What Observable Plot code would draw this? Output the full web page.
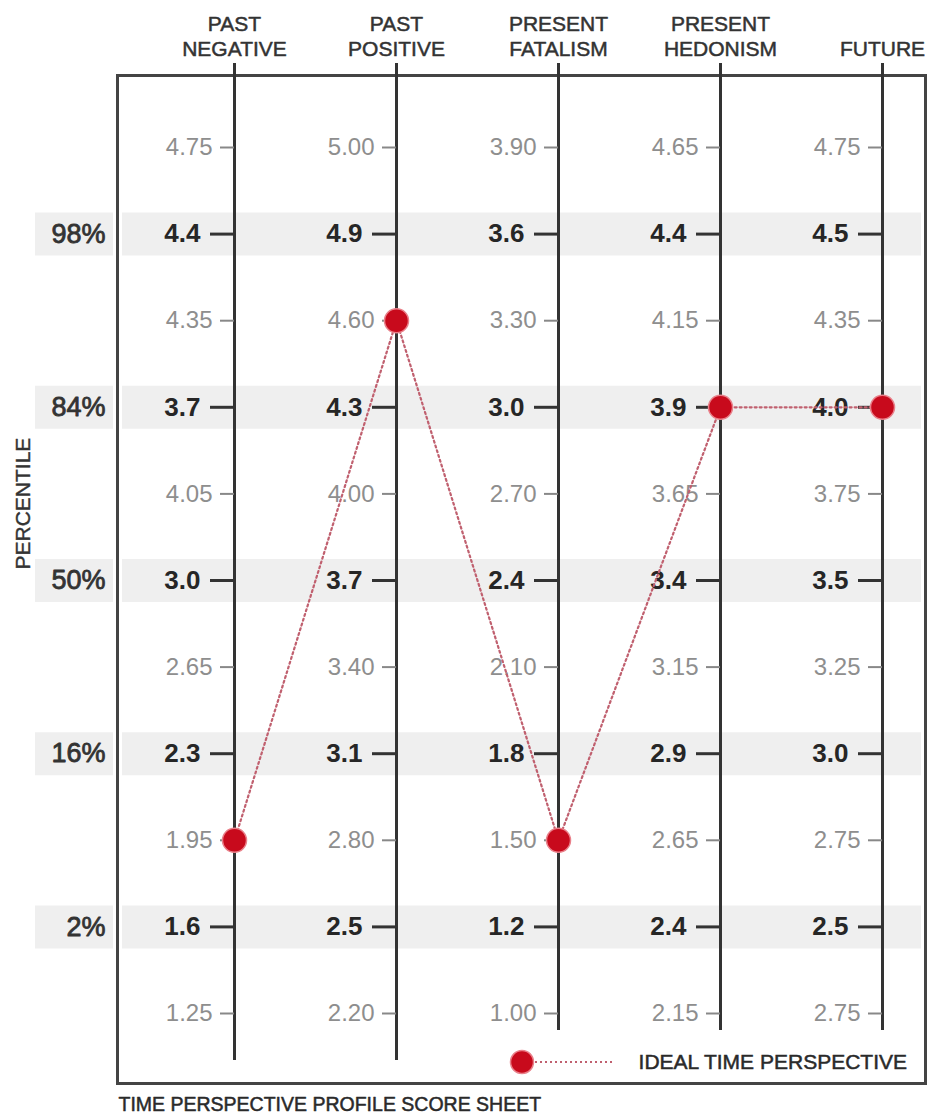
<!DOCTYPE html>
<html>
<head>
<meta charset="utf-8">
<script src="https://cdn.jsdelivr.net/npm/d3@7"></script>
<script src="https://cdn.jsdelivr.net/npm/@observablehq/plot@0.6"></script>
<style>
  html, body { margin: 0; padding: 0; background: #fff; }
  #chart svg { display: block; }
</style>
</head>
<body>
<div id="chart"></div>
<script>
// Scale headers (categories)
const scaleHeaders = ["PAST\nNEGATIVE", "PAST\nPOSITIVE", "PRESENT\nFATALISM", "PRESENT\nHEDONISM", "FUTURE"];

// Tick labels per scale, top row to bottom row
const pastNegative     = ["4.75", "4.4", "4.35", "3.7", "4.05", "3.0", "2.65", "2.3", "1.95", "1.6", "1.25"];
const pastPositive     = ["5.00", "4.9", "4.60", "4.3", "4.00", "3.7", "3.40", "3.1", "2.80", "2.5", "2.20"];
const presentFatalism  = ["3.90", "3.6", "3.30", "3.0", "2.70", "2.4", "2.10", "1.8", "1.50", "1.2", "1.00"];
const presentHedonism  = ["4.65", "4.4", "4.15", "3.9", "3.65", "3.4", "3.15", "2.9", "2.65", "2.4", "2.15"];
const future           = ["4.75", "4.5", "4.35", "4.0", "3.75", "3.5", "3.25", "3.0", "2.75", "2.5", "2.75"];

// Percentile labels (on the bold rows, top to bottom)
const percentiles = ["98%", "84%", "50%", "16%", "2%"];

// Ideal time perspective score on each scale
const idealScores = ["1.95", "4.60", "1.50", "3.9", "4.0"];

const legendLabel = "IDEAL TIME PERSPECTIVE";
const caption = "TIME PERSPECTIVE PROFILE SCORE SHEET";
const yTitle = "PERCENTILE";

// ---- derived tables ----
const scaleLabels = [pastNegative, pastPositive, presentFatalism, presentHedonism, future];
const ticks = scaleLabels.flatMap((labels, i) =>
  labels.map((label, row) => ({scale: scaleHeaders[i], row, label, major: row % 2 === 1}))
);
const majorTicks = ticks.filter(d => d.major);
const minorTicks = ticks.filter(d => !d.major);
const bandRows = percentiles.map((p, i) => ({row: 2 * i + 1, label: p}));
const ideal = idealScores.map((v, i) => ({scale: scaleHeaders[i], row: scaleLabels[i].indexOf(v)}));
const shortAxes = new Set(scaleHeaders.slice(2));

const FONT = "'Liberation Sans', Arial, Helvetica, sans-serif";
const RED = "#c80a1c";
const DOTLINE = "#c0606f";

function legendMark(index, scales, values, dims) {
  const g = d3.create("svg:g");
  const right = dims.width - dims.marginRight;
  const y = dims.height - dims.marginBottom - 21;
  const cx = right - 403;
  g.append("line")
    .attr("x1", cx + 8).attr("x2", right - 310).attr("y1", y).attr("y2", y)
    .attr("stroke", DOTLINE).attr("stroke-width", 2.2).attr("stroke-dasharray", "2,3");
  g.append("circle").attr("cx", cx).attr("cy", y).attr("r", 11.5)
    .attr("fill", RED).attr("stroke", "#e9808a").attr("stroke-width", 1.5);
  g.append("text").attr("x", right - 18).attr("y", y).attr("dy", "0.35em")
    .attr("text-anchor", "end").attr("font-size", 21).attr("fill", "#2a2a2a")
    .attr("stroke", "#2a2a2a").attr("stroke-width", 0.5)
    .attr("font-family", FONT).text(legendLabel);
  return g.node();
}

const chart = Plot.plot({
  width: 928,
  height: 1116,
  marginLeft: 117,
  marginRight: 3,
  marginTop: 75,
  marginBottom: 33,
  style: {fontFamily: FONT, background: "#fff", overflow: "visible"},
  x: {type: "point", domain: scaleHeaders, padding: 0, insetLeft: 115, insetRight: 42, axis: null},
  y: {domain: [0, 10], reverse: true, insetTop: 72, insetBottom: 70, axis: null},
  marks: [
    // grey percentile bands
    Plot.ruleY(bandRows, {y: "row", stroke: "#efefef", strokeWidth: 43, insetLeft: -82}),
    // white gap around frame then frame
    Plot.frame({stroke: "#fff", strokeWidth: 9}),
    Plot.frame({stroke: "#444", strokeWidth: 3}),
    // vertical scale axes
    Plot.ruleX(scaleHeaders.filter(s => !shortAxes.has(s)), {stroke: "#333", strokeWidth: 3, insetTop: -12, insetBottom: 23}),
    Plot.ruleX(scaleHeaders.filter(s => shortAxes.has(s)), {stroke: "#333", strokeWidth: 3, insetTop: -12, insetBottom: 53}),
    // ticks
    Plot.ruleY(majorTicks, {x1: "scale", x2: "scale", y: "row", stroke: "#333", strokeWidth: 3, insetLeft: -24}),
    Plot.ruleY(minorTicks, {x1: "scale", x2: "scale", y: "row", stroke: "#888", strokeWidth: 2, insetLeft: -14}),
    // tick labels
    Plot.text(majorTicks, {x: "scale", y: "row", text: "label", textAnchor: "end", dx: -34,
      fontSize: 26, fontWeight: "bold", fill: "#262626"}),
    Plot.text(minorTicks, {x: "scale", y: "row", text: "label", textAnchor: "end", dx: -22,
      fontSize: 24, fill: "#8e8e8e"}),
    // percentile labels
    Plot.text(bandRows, {y: "row", text: "label", frameAnchor: "left", dx: -12, textAnchor: "end",
      fontSize: 27, fill: "#333", stroke: "#333", strokeWidth: 0.8}),
    // y title
    Plot.text([yTitle], {frameAnchor: "left", dx: -94, dy: -10, rotate: -90, fontSize: 21,
      fill: "#333", stroke: "#333", strokeWidth: 0.4}),
    // headers
    Plot.text(scaleHeaders, {x: d => d, frameAnchor: "top", dy: -20, lineAnchor: "bottom", lineHeight: 1.17,
      fontSize: 21, fill: "#333", stroke: "#333", strokeWidth: 0.5}),
    // caption
    Plot.text([caption], {frameAnchor: "bottom-left", dx: 1, dy: 27, lineAnchor: "bottom", textAnchor: "start",
      fontSize: 19.5, fill: "#2a2a2a", stroke: "#2a2a2a", strokeWidth: 0.5}),
    // ideal profile
    Plot.line(ideal, {x: "scale", y: "row", stroke: DOTLINE, strokeWidth: 2.2, strokeDasharray: "2,3"}),
    Plot.dot(ideal, {x: "scale", y: "row", r: 12, fill: RED, stroke: "#e9808a", strokeWidth: 1.5}),
    // legend
    legendMark
  ]
});
document.getElementById("chart").appendChild(chart);
</script>
</body>
</html>
